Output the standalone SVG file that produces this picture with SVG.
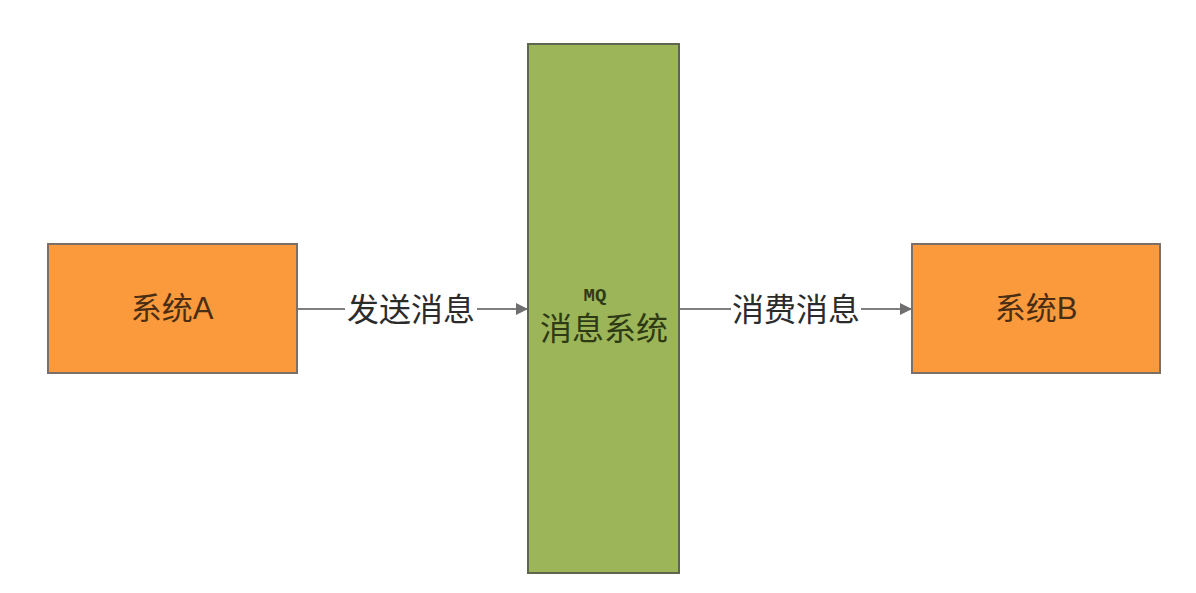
<svg xmlns="http://www.w3.org/2000/svg" width="1196" height="593" viewBox="0 0 1196 593">
<style>
.sys{fill:#FB9A3D;stroke:#7a7068;stroke-width:2}
.mq{fill:#9BB558;stroke:#5f6650;stroke-width:2}
.t{font-family:"Liberation Sans","Noto Sans CJK SC",sans-serif;font-size:32px;fill:#2b2b2b;text-anchor:middle}
.tn{fill:#4a2e14;font-size:31px}
.lbl{fill:#2b2b2b}
.conn{stroke:#7f7f7f;stroke-width:2;fill:none}
</style>
<defs>
<marker id="arr" markerWidth="12" markerHeight="12" refX="11" refY="6" orient="auto" markerUnits="userSpaceOnUse">
<path d="M0,0 L12,6 L0,12 Z" fill="#6f6f6f"/>
</marker>
</defs>
<rect width="1196" height="593" fill="#ffffff"/>
<g id="connectors">
<line class="conn" x1="297" y1="309" x2="345" y2="309"/>
<line class="conn" x1="477" y1="309" x2="527" y2="309" marker-end="url(#arr)"/>
<text class="t lbl" x="411" y="321">发送消息</text>
<line class="conn" x1="680" y1="309" x2="731" y2="309"/>
<line class="conn" x1="861" y1="309" x2="911" y2="309" marker-end="url(#arr)"/>
<text class="t lbl" x="796" y="321">消费消息</text>
</g>
<g id="nodeA">
<rect class="sys" x="48" y="244" width="249" height="129"/>
<text class="t tn" x="172" y="319">系统A</text>
</g>
<g id="nodeMQ">
<rect class="mq" x="528" y="44" width="151" height="529"/>
<text class="t" x="595" y="301" style="font-size:19px;font-weight:bold;font-family:'Liberation Mono',monospace;fill:#2f3a14">MQ</text>
<text class="t" x="604" y="340" style="fill:#2f3a14">消息系统</text>
</g>
<g id="nodeB">
<rect class="sys" x="912" y="244" width="248" height="129"/>
<text class="t tn" x="1036" y="319">系统B</text>
</g>
</svg>
